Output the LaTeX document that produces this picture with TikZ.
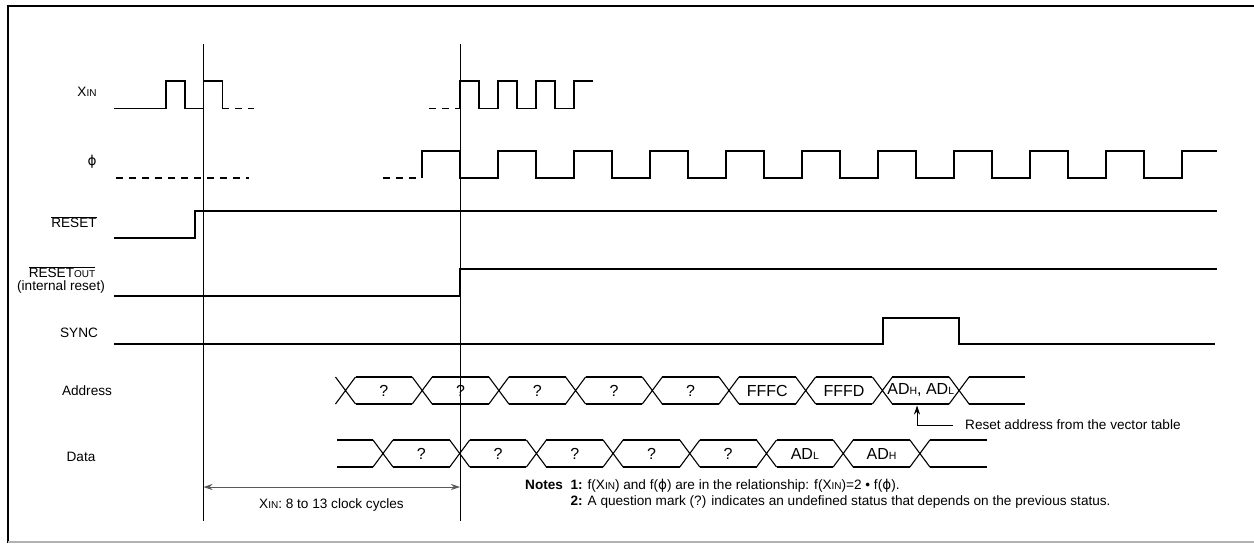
\documentclass[tikz,border=0pt]{standalone}
\usepackage{fontspec}
\setmainfont{Liberation Sans}
\newfontfamily\dejavu{DejaVu Sans}
\usetikzlibrary{arrows.meta}
\newcommand{\sml}[1]{{\fontsize{10}{11}\selectfont #1}}
\newcommand{\smv}[1]{{\fontsize{10.5}{11}\selectfont #1}}
\newcommand{\ph}{{\dejavu ϕ}}
\begin{document}
\begin{tikzpicture}[x=1pt,y=-1pt,
	sig/.style={line width=1.1pt},
	dsh/.style={line width=1.1pt,dash pattern=on 7pt off 6pt},
	vline/.style={line width=0.8pt},
	lbl/.style={font=\fontsize{13.6}{15}\selectfont,inner sep=0pt},
	val/.style={font=\fontsize{16}{18}\selectfont,inner sep=0pt},
	note/.style={font=\fontsize{13.6}{15.5}\selectfont,inner sep=0pt,anchor=west},
	tip/.style={-{Stealth[length=9pt,width=6pt]},line width=0.9pt},
	]
	\useasboundingbox (0,0) rectangle (1254,544);
	% frame
	\draw[line width=2.5pt] (8,543) -- (8,6) -- (1254,6);
	\draw[line width=1.5pt,gray!60] (8,542) -- (1254,542);
	% signal names
	\node[lbl] (xin) at (87,92) {X\sml{IN}};
	\node[lbl] (phi) at (92,162) {\ph};
	\node[lbl] (rst) at (74,222) {$\overline{\hbox{RESET}}$};
	\node[lbl] (rsto) at (62,272) {$\overline{\hbox{RESET\sml{OUT}}}$};
	\node[lbl] (intr) at (61,287) {(internal reset)};
	\node[lbl] (sync) at (79,333) {SYNC};
	\node[lbl] (addr) at (87,391) {Address};
	\node[lbl] (data) at (81,457) {Data};
	% X_IN
	\draw[sig] (114,108.7) -- (166,108.7) -- (166,81) -- (185,81) -- (185,108.7)
		-- (203.5,108.7) -- (203.5,81) -- (222.5,81) -- (222.5,108.7) -- (229,108.7);
	\draw[dsh] (235,108.7) -- (254,108.7);
	\draw[dsh] (429,108.7) -- (460,108.7);
	\draw[sig] (460,108.7) \foreach \k in {1,...,3} {
		-- ++(0,-27.7) -- ++(19,0) -- ++(0,27.7) -- ++(19,0)} -- ++(0,-27.7) -- ++(19,0);
	% phi
	\draw[dsh] (116,178) -- (249,178);
	\draw[dsh] (383,178) -- (422,178);
	\draw[sig] (422,178) \foreach \k in {1,...,10} {
		-- ++(0,-27) -- ++(38,0) -- ++(0,27) -- ++(38,0)} -- ++(0,-27) -- ++(35,0);
	% RESET, RESET_OUT, SYNC
	\draw[sig] (114,238) -- (195,238) -- (195,211) -- (1217,211);
	\draw[sig] (114,296) -- (460,296) -- (460,269) -- (1217,269);
	\draw[sig] (114,344) -- (883,344) -- (883,318) -- (959,318) -- (959,344) -- (1215,344);
	% address bus
	\foreach \k in {0,...,8}
		\draw[sig] (345.5+76.7*\k-10,377) -- (345.5+76.7*\k+10,404)
			(345.5+76.7*\k-10,404) -- (345.5+76.7*\k+10,377);
	\foreach \k in {0,...,7}
		\draw[sig] (345.5+76.7*\k+10,377) -- (345.5+76.7*\k+66.7,377)
			(345.5+76.7*\k+10,404) -- (345.5+76.7*\k+66.7,404);
	\draw[sig] (969,377) -- (1025,377) (969,404) -- (1025,404);
	\foreach \t [count=\k from 0] in {?,?,?,?,?,FFFC,FFFD,{AD\smv{H}, AD\smv{L}}}
		\node[val] (a\k) at (345.5+76.7*\k+38.35,390.5) {\t};
	% data bus
	\draw[sig] (337,440) -- (373,440) (337,467) -- (373,467);
	\foreach \k in {0,...,7}
		\draw[sig] (383+76.7*\k-10,440) -- (383+76.7*\k+10,467)
			(383+76.7*\k-10,467) -- (383+76.7*\k+10,440);
	\foreach \k in {0,...,6}
		\draw[sig] (383+76.7*\k+10,440) -- (383+76.7*\k+66.7,440)
			(383+76.7*\k+10,467) -- (383+76.7*\k+66.7,467);
	\draw[sig] (930,440) -- (987,440) (930,467) -- (987,467);
	\foreach \t [count=\k from 0] in {?,?,?,?,?,AD\smv{L},AD\smv{H}}
		\node[val] (d\k) at (383+76.7*\k+38.35,453.5) {\t};
	% vector table note
	\node[lbl,anchor=west] (vec) at (965,425) {Reset address from the vector table};
	\coordinate (vtip) at (917,405.5);
	\draw[tip] ([xshift=-12pt]vec.west) -| (vtip);
	% reference lines and cycle count
	\draw[vline] (203.5,44) -- (203.5,521);
	\draw[vline] (460,44) -- (460,521);
	\coordinate (dl) at (203.5,487);
	\coordinate (dr) at (460,487);
	\draw[tip,{Stealth[length=9pt,width=6pt]}-{Stealth[length=9pt,width=6pt]},gray!70!black] (dl) -- (dr);
	\node[lbl] (cyc) at (331.5,505) {X\sml{IN}: 8 to 13 clock cycles};
	% notes
	\node[note] (notes) at (525,494.5) {\begin{tabular}{@{}l@{\ \ }l@{}}
		\textbf{Notes} & \textbf{1:} f(X\sml{IN}) and f(\ph) are in the relationship: f(X\sml{IN})=2 • f(\ph).\\
		& \textbf{2:} A question mark (?) indicates an undefined status that depends on the previous status.
		\end{tabular}};
\end{tikzpicture}
\end{document}
